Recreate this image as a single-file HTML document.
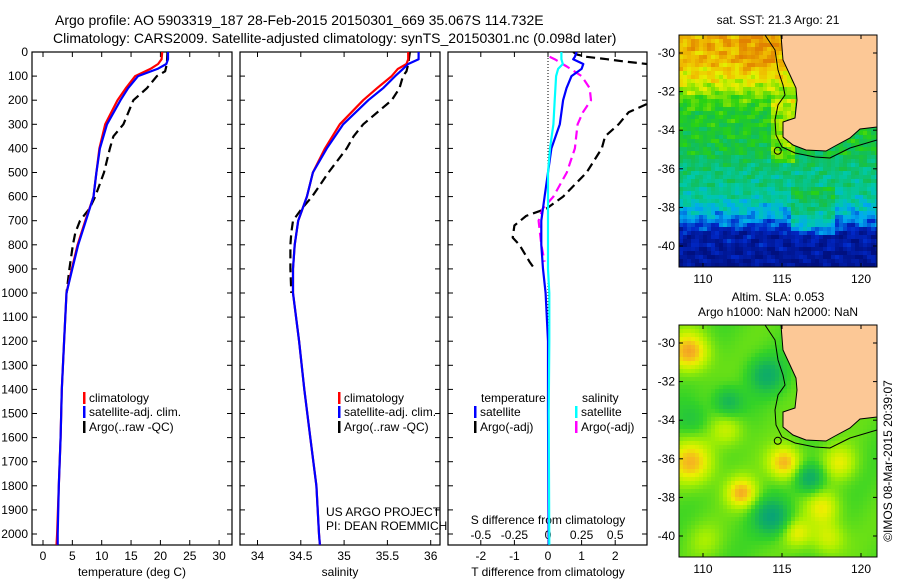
<!DOCTYPE html>
<html><head><meta charset="utf-8"><style>
html,body{margin:0;padding:0;background:#fff;}
svg{display:block;font-family:"Liberation Sans",sans-serif;}
</style></head><body>
<svg id="fig" width="900" height="580" viewBox="0 0 900 580" xmlns="http://www.w3.org/2000/svg">
<defs>
<clipPath id="c1"><rect x="32" y="52" width="200" height="493"/></clipPath>
<clipPath id="c2"><rect x="240" y="52" width="200" height="493"/></clipPath>
<clipPath id="c3"><rect x="448" y="52" width="199" height="493"/></clipPath>
<clipPath id="m1"><rect x="679" y="35" width="198" height="232"/></clipPath>
<clipPath id="m2"><rect x="679" y="325" width="198" height="232"/></clipPath>
</defs>
<text x="55" y="25" font-size="14">Argo profile: AO 5903319_187 28-Feb-2015 20150301_669 35.067S 114.732E</text>
<text x="53" y="43" font-size="14">Climatology: CARS2009. Satellite-adjusted climatology: synTS_20150301.nc (0.098d later)</text>
<g id="g"></g>
</svg>
<script>
// ---- data ----
const tempDepth=[0,30,50,70,100,150,200,300,400,500,600,700,800,900,1000,1200,1400,1600,1800,2000,2045];
const tempClim=[20.3,20.2,19.6,18.3,15.7,14.1,12.7,10.6,9.6,9.1,8.6,7.2,5.9,4.9,4.0,3.6,3.2,3.0,2.7,2.4,2.3];
const tempSat=[21.3,21.3,21.0,19.5,16.2,14.5,13.2,10.9,9.7,9.1,8.6,7.3,6.0,5.0,4.0,3.6,3.2,3.0,2.7,2.5,2.5];
const salClim=[35.74,35.74,35.72,35.62,35.55,35.38,35.22,34.95,34.78,34.64,34.57,34.47,34.43,34.41,34.41,34.48,34.54,34.61,34.68,34.71,34.72];
const salSat=[35.86,35.86,35.74,35.68,35.59,35.45,35.28,34.99,34.80,34.64,34.57,34.47,34.43,34.41,34.41,34.48,34.54,34.61,34.68,34.71,34.72];
const argoDepth=[0,50,80,100,150,200,300,350,400,500,600,650,700,750,800,900,1000];
const argoTemp=[21.2,21.1,20.8,19.4,17.7,15.4,13.7,12,11.4,10.4,8.9,7.9,6.3,5.5,5.1,4.5,4.0];
const argoSal=[35.76,35.74,35.72,35.68,35.64,35.55,35.22,35.11,35.03,34.82,34.63,34.51,34.41,34.39,34.38,34.38,34.39];
const diffDepth=[0,20,30,50,70,100,150,200,300,400,500,600,700,800,900,1000,1200,1500,2045];
const satDT=[0.85,0.8,0.75,1.05,1.0,0.7,0.55,0.45,0.35,0.1,0,-0.1,-0.2,-0.2,-0.15,-0.07,0,0,0.02];
const satDS=[0.1,0.1,0.1,0.11,0.075,0.06,0.055,0.05,0.04,0.015,0,0,0,0,0,0.01,0.01,0.005,0.01];
const argoDTDepth=[0,10,20,30,40,50,100,150,212,250,300,350,400,500,600,650,680,720,770,800,870,900];
const argoDT=[0.75,0.85,1.15,1.75,2.3,2.95,3.6,3.6,3.0,2.4,2.1,1.7,1.6,1.15,0.45,-0.05,-0.65,-1.0,-1.05,-0.85,-0.55,-0.4];
const argoDSDepth=[20,30,60,100,150,200,250,300,350,400,500,600,650,700,800,870];
const argoDS=[0.012,0.05,0.14,0.25,0.31,0.32,0.26,0.22,0.21,0.2,0.14,0.04,-0.04,-0.07,-0.05,-0.025];
const depthTicks=[0,100,200,300,400,500,600,700,800,900,1000,1100,1200,1300,1400,1500,1600,1700,1800,1900,2000];
const tempTicks=[0,5,10,15,20,25,30];
const salTicks=[34,34.5,35,35.5,36];
const salTickLabels=["34","34.5","35","35.5","36"];
const dtTicks=[-2,-1,0,1,2];
const dsTicks=[-0.5,-0.25,0,0.25,0.5];
const latTicks=[-30,-32,-34,-36,-38,-40];
const lonTicks=[110,115,120];

// ---- scales ----
const yD=d=>52+d*0.241;
const xT=v=>43+v*5.87;
const xS=v=>257.5+(v-34)*86.6;
const xDT=v=>548+v*33.6;
const xDS=v=>548+v*134.4;
const lonX=l=>703+(l-110)*15.8;
const latY=(l,off)=>off+53+(-30-l)*19.3;

const NS="http://www.w3.org/2000/svg";
const G=document.getElementById('g');
function mk(tag,at,parent){const e=document.createElementNS(NS,tag);for(const k in at)e.setAttribute(k,at[k]);(parent||G).appendChild(e);return e;}
function txt(x,y,s,anchor,size,parent){const t=mk('text',{x:x,y:y,'font-size':size||12,'text-anchor':anchor||'start'},parent);t.textContent=s;return t;}

// ---- panels ----
const panels=[[32,'c1'],[240,'c2'],[448,'c3']];
panels.forEach(([px],i)=>{
  const r=mk('rect',{x:px,y:52,width:i==2?199:200,height:493,fill:'none',stroke:'#000','stroke-width':1.2});
  
  
  const w=i==2?199:200;
  depthTicks.forEach(d=>{
    mk('line',{x1:px,x2:px+5,y1:yD(d),y2:yD(d),stroke:'#000'});
    mk('line',{x1:px+w-5,x2:px+w,y1:yD(d),y2:yD(d),stroke:'#000'});
  });
});
depthTicks.forEach(d=>{
  const t=txt(28,yD(d)+4,String(d),'end',12);
  
  
});

tempTicks.forEach(v=>{
  mk('line',{x1:xT(v),x2:xT(v),y1:545,y2:540,stroke:'#000'});
  mk('line',{x1:xT(v),x2:xT(v),y1:52,y2:57,stroke:'#000'});
  const t=txt(xT(v),560,String(v),'middle',12);
  
  
});
salTicks.forEach((v,i)=>{
  mk('line',{x1:xS(v),x2:xS(v),y1:545,y2:540,stroke:'#000'});
  mk('line',{x1:xS(v),x2:xS(v),y1:52,y2:57,stroke:'#000'});
  const t=txt(xS(v),560,salTickLabels[i],'middle',12);
  
  
});
dtTicks.forEach(v=>{
  mk('line',{x1:xDT(v),x2:xDT(v),y1:545,y2:540,stroke:'#000'});
  mk('line',{x1:xDT(v),x2:xDT(v),y1:52,y2:57,stroke:'#000'});
  const t=txt(xDT(v),560,String(v),'middle',12);
  
  
});
dsTicks.forEach(v=>{
  const t=txt(xDS(v),539,String(v),'middle',12);
  
  
});
[[132,'temperature (deg C)','x-axis-title-temperature'],[340,'salinity','x-axis-title-salinity'],[548,'T difference from climatology','x-axis-title-t-diff']].forEach(([x,s,n])=>{
  const t=txt(x,576,s,'middle',12);
  
  
});
{const t=txt(548,524,'S difference from climatology','middle',12);

}

// zero dotted line
mk('line',{x1:548,x2:548,y1:52,y2:545,stroke:'#000','stroke-dasharray':'1 2','stroke-width':1});

function line(xs,ds,fx,color,clip,name,dash){
  const pts=ds.map((d,i)=>fx(xs[i]).toFixed(1)+','+yD(d).toFixed(1)).join(' ');
  const at={points:pts,fill:'none',stroke:color,'stroke-width':2.2,'clip-path':'url(#'+clip+')','stroke-linejoin':'round'};
  if(dash)at['stroke-dasharray']=dash;
  const p=mk('polyline',at);
  
  
}
line(argoTemp,argoDepth,xT,'#000','c1','argo-temperature-line','9 5');
line(tempClim,tempDepth,xT,'#ff0000','c1','climatology-temperature-line');
line(tempSat,tempDepth,xT,'#0000ff','c1','satellite-temperature-line');
line(argoSal,argoDepth,xS,'#000','c2','argo-salinity-line','9 5');
line(salClim,tempDepth,xS,'#ff0000','c2','climatology-salinity-line');
line(salSat,tempDepth,xS,'#0000ff','c2','satellite-salinity-line');
line(argoDT,argoDTDepth,xDT,'#000','c3','argo-t-diff-line','9 5');
line(argoDS,argoDSDepth,xDS,'#ff00ff','c3','argo-s-diff-line','9 5');
line(satDT,diffDepth,xDT,'#0000ff','c3','satellite-t-diff-line');
line(satDS,diffDepth,xDS,'#00ffff','c3','satellite-s-diff-line');

// legends
function leg(x,y,color,s,name){
  mk('rect',{x:x,y:y-10,width:2.5,height:12,fill:color});
  const t=txt(x+6,y,s,'start',12);
  
  
}
leg(83,402,'#ff0000','climatology','legend-climatology');
leg(83,416,'#0000ff','satellite-adj. clim.','legend-satellite');
leg(83,431,'#000','Argo(..raw -QC)','legend-argo');
leg(338,402,'#ff0000','climatology','legend-climatology-2');
leg(338,416,'#0000ff','satellite-adj. clim.','legend-satellite-2');
leg(338,431,'#000','Argo(..raw -QC)','legend-argo-2');
{const t=txt(481,402,'temperature','start',12);}
{const t=txt(582,402,'salinity','start',12);}
leg(474,416,'#0000ff','satellite','legend-t-satellite');
leg(474,431,'#000','Argo(-adj)','legend-t-argo');
leg(575,416,'#00ffff','satellite','legend-s-satellite');
leg(575,431,'#ff00ff','Argo(-adj)','legend-s-argo');
{const t=txt(326,516,'US ARGO PROJECT','start',12);}
{const t=txt(326,530,'PI: DEAN ROEMMICH','start',12);}

// ---- maps ----
function lerpC(stops,v){
  v=Math.max(0,Math.min(1,v));
  for(let i=1;i<stops.length;i++){if(v<=stops[i][0]){const a=stops[i-1],b=stops[i];const t=(v-a[0])/(b[0]-a[0]);
    return 'rgb('+[0,1,2].map(k=>Math.round(a[1][k]+(b[1][k]-a[1][k])*t)).join(',')+')';}}
  const l=stops[stops.length-1][1];return 'rgb('+l.join(',')+')';
}
const sstStops=[[0,[0,16,128]],[0.14,[0,40,200]],[0.26,[0,170,240]],[0.36,[0,200,170]],[0.5,[20,190,80]],[0.6,[40,210,20]],[0.72,[150,230,0]],[0.8,[230,240,0]],[0.9,[240,190,0]],[1,[225,130,0]]];
const slaStops=[[0,[0,150,140]],[0.3,[20,180,90]],[0.5,[50,210,40]],[0.68,[170,240,0]],[0.8,[235,240,0]],[0.9,[245,185,30]],[1,[240,140,40]]];
const sstBase=[[35,0.93],[60,0.9],[80,0.8],[95,0.66],[110,0.57],[150,0.52],[165,0.44],[190,0.4],[205,0.32],[220,0.22],[230,0.08],[267,0.03]];
function baseAt(y){for(let i=1;i<sstBase.length;i++){if(y<=sstBase[i][0]){const a=sstBase[i-1],b=sstBase[i];return a[1]+(b[1]-a[1])*(y-a[0])/(b[0]-a[0]);}}return 0.03;}
const slaBlobs=[[690,352,0.4,14],[692,463,0.35,16],[742,493,0.35,11],[785,463,0.38,12],[823,508,0.25,12],[828,538,0.22,12],[797,533,0.22,10],[727,430,0.2,12],[840,463,0.22,12],[772,517,-0.4,12],[810,478,-0.35,10],[767,375,-0.3,12],[728,402,-0.25,10],[692,420,-0.15,12],[705,540,0.1,12]];
const mapSST=mk('g',{'clip-path':'url(#m1)'});


const mapSLA=mk('g',{'clip-path':'url(#m2)'});


const cs=4;
function tex(x,y){return 0.04*Math.sin(x*0.37+Math.sin(y*0.11)*3)+0.04*Math.sin(y*0.41+Math.cos(x*0.09)*3)+0.025*Math.sin(x*1.7+y*2.3);}
for(let x=679;x<877;x+=cs){for(let y=35;y<267;y+=cs){
  let v=baseAt(y)+tex(x,y);
  if(y>185&&y<235&&x>790&&x<835)v+=0.12;
  if(y<70&&x>735&&x<775)v+=0.05;
  if(y>95&&y<160&&x>770&&x<795)v+=0.15;
  mk('rect',{x:x,y:y,width:cs,height:cs,fill:lerpC(sstStops,v)},mapSST);
}}
for(let x=679;x<877;x+=cs){for(let y=325;y<557;y+=cs){
  let v=0.55;
  slaBlobs.forEach(b=>{const dx=x+2-b[0],dy=y+2-b[1];v+=b[2]*Math.exp(-(dx*dx+dy*dy)/(2*b[3]*b[3]));});
  v+=0.03*Math.sin(x*0.08+y*0.05);
  mk('rect',{x:x,y:y,width:cs,height:cs,fill:lerpC(slaStops,v)},mapSLA);
}}
const land=[[781,35],[783,60],[790,75],[796,88],[797,100],[795,118],[783,122],[783,137],[793,145],[806,150],[826,151],[835,146],[850,138],[860,129],[877,127],[877,35]];
const contour=[[765,35],[775,50],[778,70],[783,85],[785,95],[778,105],[775,120],[776,135],[782,147],[795,153],[815,157],[830,158],[850,148],[877,140]];
[[0,mapSST,'m1'],[290,mapSLA,'m2']].forEach(([off,grp,clip],k)=>{
  const lp=mk('polygon',{points:land.map(p=>p[0]+','+(p[1]+off)).join(' '),fill:'#fcc896',stroke:'#000','stroke-width':1},grp);
  
  
  mk('polyline',{points:contour.map(p=>p[0]+','+(p[1]+off)).join(' '),fill:'none',stroke:'#000','stroke-width':1},grp);
  const c=mk('circle',{cx:lonX(114.732),cy:latY(-35.067,off),r:3.5,fill:'none',stroke:'#000','stroke-width':1});
  
  
  const fr=mk('rect',{x:679,y:35+off,width:198,height:232,fill:'none',stroke:'#000','stroke-width':1});
  
  
  latTicks.forEach(l=>{const y=latY(l,off);
    mk('line',{x1:679,x2:683,y1:y,y2:y,stroke:'#000'});mk('line',{x1:873,x2:877,y1:y,y2:y,stroke:'#000'});
    const t=txt(675,y+4,String(l),'end',12);});
  lonTicks.forEach(l=>{const x=lonX(l);
    mk('line',{x1:x,x2:x,y1:35+off,y2:39+off,stroke:'#000'});mk('line',{x1:x,x2:x,y1:263+off,y2:267+off,stroke:'#000'});
    const t=txt(x,283+off,String(l),'middle',12);});
});
{const t=txt(778,24,'sat. SST: 21.3 Argo: 21','middle',12);}
{const t=txt(778,301,'Altim. SLA: 0.053','middle',12);}
{const t=txt(778,316,'Argo h1000: NaN h2000: NaN','middle',12);}
{const t=txt(0,0,'©IMOS 08-Mar-2015 20:39:07','middle',12);t.setAttribute('transform','translate(892,461) rotate(-90)');}
</script>
</body></html>
